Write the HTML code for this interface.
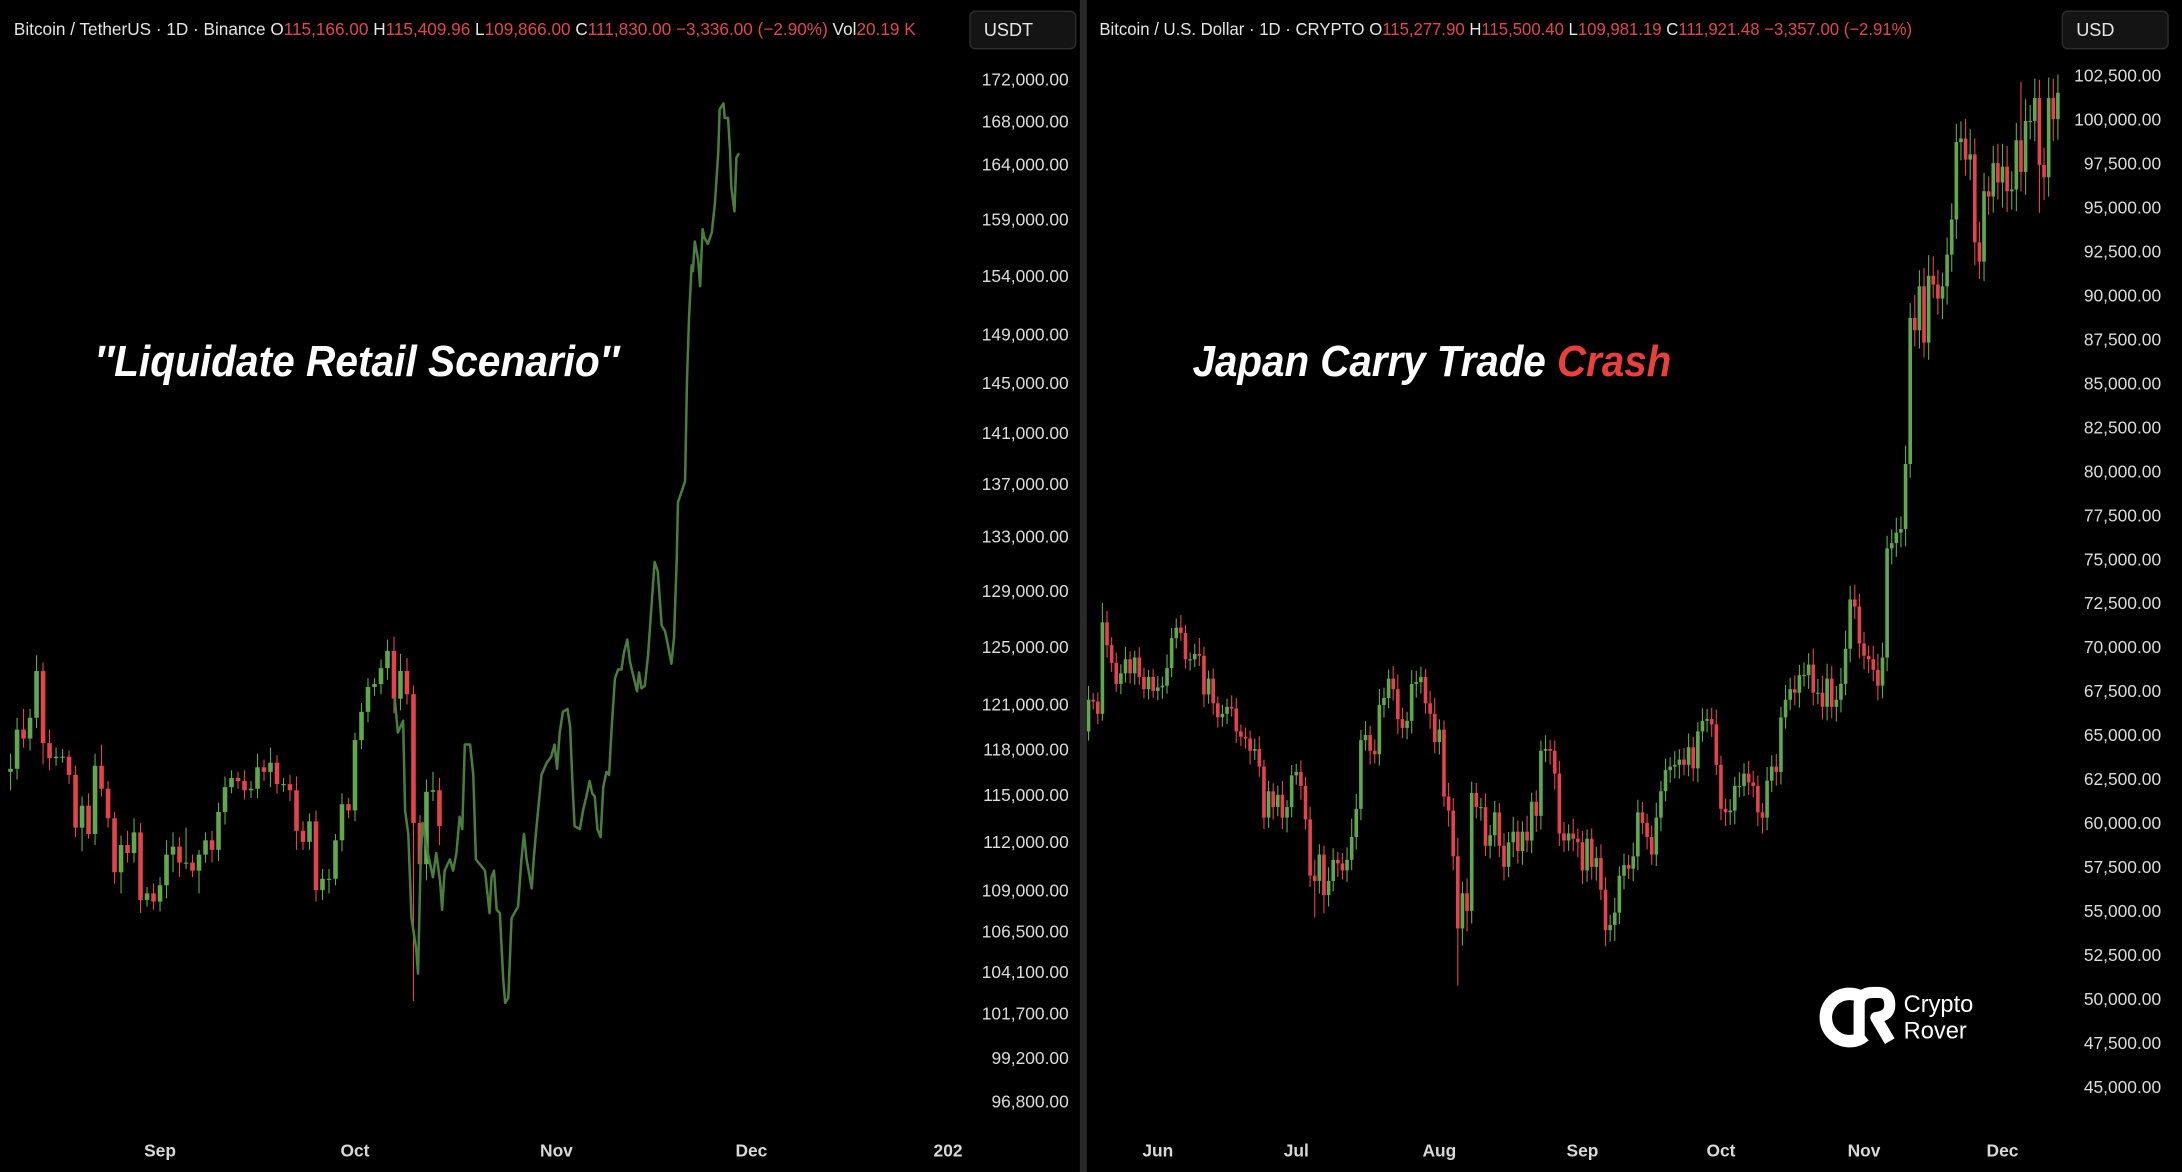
<!DOCTYPE html>
<html><head><meta charset="utf-8">
<style>
html,body{margin:0;padding:0;background:#000;}
svg{display:block;font-family:"Liberation Sans",sans-serif;}
</style></head>
<body>
<svg id="chart" width="2182" height="1172" viewBox="0 0 1568 842" preserveAspectRatio="none" xmlns="http://www.w3.org/2000/svg">
<rect x="0" y="0" width="1568" height="842" fill="#000"/>
<rect x="776" y="0" width="5" height="842" fill="#2a2a2a"/>
<defs>
<clipPath id="clipL"><rect x="0" y="0" width="692" height="842"/></clipPath>
<clipPath id="clipR"><rect x="781" y="0" width="700" height="842"/></clipPath>
</defs>
<text x="10" y="25" font-size="12.5" fill="#e6e6e6" textLength="648" lengthAdjust="spacingAndGlyphs">Bitcoin / TetherUS · 1D · Binance  O<tspan fill="#e0474f">115,166.00</tspan>  H<tspan fill="#e0474f">115,409.96</tspan>  L<tspan fill="#e0474f">109,866.00</tspan>  C<tspan fill="#e0474f">111,830.00</tspan>  <tspan fill="#e0474f">−3,336.00 (−2.90%)</tspan>  Vol<tspan fill="#e0474f">20.19 K</tspan></text>
<text x="790" y="25" font-size="12.5" fill="#e6e6e6" textLength="584" lengthAdjust="spacingAndGlyphs">Bitcoin / U.S. Dollar · 1D · CRYPTO  O<tspan fill="#e0474f">115,277.90</tspan>  H<tspan fill="#e0474f">115,500.40</tspan>  L<tspan fill="#e0474f">109,981.19</tspan>  C<tspan fill="#e0474f">111,921.48</tspan>  <tspan fill="#e0474f">−3,357.00 (−2.91%)</tspan></text>
<g><rect x="697" y="8" width="76" height="27" rx="4" fill="#141414" stroke="#2e2e2e"/><text x="707" y="26" font-size="13" fill="#e6e6e6">USDT</text></g>
<g><rect x="1482" y="8" width="76" height="27" rx="4" fill="#141414" stroke="#2e2e2e"/><text x="1492" y="26" font-size="13" fill="#e6e6e6">USD</text></g>
<g id="left" clip-path="url(#clipL)"></g>
<g id="right" clip-path="url(#clipR)"></g>
<g id="axes"></g>
<text x="68" y="270" font-size="31" font-weight="bold" font-style="italic" fill="#fff" textLength="377" lengthAdjust="spacingAndGlyphs">″Liquidate Retail Scenario″</text>
<text x="857" y="270" font-size="31" font-weight="bold" font-style="italic" fill="#fff" textLength="344" lengthAdjust="spacingAndGlyphs">Japan Carry Trade <tspan fill="#e8403a">Crash</tspan></text>
<g>
<path d="M1340 718 A17 17 0 1 0 1340 744" fill="none" stroke="#fff" stroke-width="9"/>
<path d="M1336 748 L1336 722 Q1336 713 1346 713 L1350 713 Q1358 713 1358 722 Q1358 730 1348 731 L1358 748" fill="none" stroke="#fff" stroke-width="8" stroke-linejoin="round"/>
<text x="1368" y="727" font-size="17" fill="#fff">Crypto</text>
<text x="1368" y="746" font-size="17" fill="#fff">Rover</text>
</g>
</svg>
<script>
// ---------- Left chart data (BTC/USDT 2025, thousands) ----------
const leftStartDay = -23; // Aug 9 relative to Sep 1
const leftFirstOpen = 116.5;
const leftCloses = [116.7,119.3,118.7,120.1,123.3,118.4,117.4,117.5,117.5,116.3,112.9,114.3,112.5,116.9,115.4,113.5,110.1,111.8,111.3,112.6,108.4,108.8,108.3,109.3,111.2,111.7,110.7,110.7,110.2,111.2,112.1,111.5,113.9,115.5,116.1,115.9,115.3,115.4,116.8,116.5,117.1,115.7,115.7,115.3,112.7,112.0,113.3,109.0,109.7,109.7,112.1,114.4,114.0,118.6,120.5,122.2,122.4,123.5,124.7,121.4,123.3,121.7,113.2,110.6,115.2,115.3,113.0];
const leftWickUp = [1.0,0.8,1.4,0.6,1.1,0.6,0.9,0.6,0.5,0.4,0.6,0.6,0.8,0.8,1.4,0.5,0.4,0.6,0.9,0.9,0.6,0.4,0.6,0.5,0.9,0.9,0.6,2.2,0.5,0.3,0.5,0.6,0.6,0.7,0.5,0.4,0.7,0.5,0.9,0.5,1.0,0.5,0.4,0.6,0.9,0.6,0.5,0.7,0.6,0.6,0.4,0.7,0.4,0.5,0.6,0.6,0.4,0.6,0.8,1.0,1.2,0.9,0.6,0.5,0.8,1.2,0.8];
const leftWickDn = [1.2,0.7,0.6,0.8,0.7,1.4,0.8,0.5,0.4,0.6,0.6,1.5,0.3,0.7,0.5,0.6,0.7,1.3,0.6,0.6,0.8,0.4,0.5,0.6,0.8,1.1,0.9,0.4,0.4,1.4,0.5,0.8,0.7,0.8,0.4,0.5,0.6,0.5,0.6,0.6,1.0,0.6,0.5,0.7,1.2,0.5,0.5,0.7,0.6,0.9,0.4,0.7,0.5,0.7,0.6,0.7,0.6,0.7,0.8,1.0,0.8,0.7,10.8,0.8,1.0,0.6,1.2];
// projection line: day (from Sep 1) and price (thousands)
const projDays = [36.1,36.6,37.4,37.7,38.2,38.7,39.4,39.7,40.1,40.4,41.0,42.0,42.5,43.1,43.4,43.8,44.6,45.1,45.6,46.1,46.5,46.9,47.7,48.2,48.6,49.2,50.0,50.7,51.0,51.4,51.8,52.3,52.8,53.1,53.6,54.1,55.1,55.6,56.0,56.4,57.2,57.5,57.9,58.7,59.5,60.2,60.7,61.1,61.5,62.0,62.7,63.1,63.5,63.8,64.6,65.1,65.6,66.1,66.5,66.9,67.3,67.8,68.2,68.7,69.1,69.5,70.0,70.5,71.0,71.4,71.9,72.3,72.7,73.4,73.7,74.1,74.6,75.1,75.6,76.1,76.6,77.2,77.7,78.2,78.7,79.1,79.5,79.7,80.2,80.8,81.1,81.4,81.8,82.0,82.3,82.8,83.1,83.5,83.8,84.3,84.9,85.4,85.9,86.1,86.7,86.9,87.4,87.7,87.9,88.4,88.7,89.1];
const projPrices = [121.5,119.1,119.9,114.0,112.5,107.3,105.5,104.0,110.9,113.2,111.7,109.8,111.3,109.5,107.8,110.2,110.9,110.2,111.3,113.6,112.8,118.3,118.3,116.3,110.9,110.6,110.2,107.6,109.8,110.2,107.8,107.6,103.7,102.3,102.6,107.3,108.0,110.9,112.5,110.9,109.1,110.9,112.8,116.3,117.1,117.5,118.3,116.7,119.1,120.5,120.7,119.5,115.5,113.0,112.8,114.0,114.9,115.9,115.1,114.9,112.8,112.3,115.5,116.5,116.3,119.5,122.8,123.4,123.4,124.6,125.5,124.0,123.2,121.9,123.2,122.1,122.3,124.4,127.8,131.1,130.4,126.5,126.1,125.0,123.8,125.7,131.3,135.6,136.3,137.2,145.3,150.3,154.9,154.4,157.0,155.4,153.1,158.1,157.3,156.8,157.8,160.5,165.2,169.1,169.7,168.3,168.3,165.2,161.9,159.7,164.6,165.0];
const leftTicks = [172000,168000,164000,159000,154000,149000,145000,141000,137000,133000,129000,125000,121000,118000,115000,112000,109000,106500,104100,101700,99200,96800];
const leftMonths = ["Sep","Oct","Nov","Dec","2026"];
const leftMonthDays = [0,30,61,91,122];

// ---------- Right chart data (BTC/USD 2024, thousands) ----------
const rightStartDay = -16; // May 16 relative to Jun 1
const rightFirstOpen = 66.2;
const rightCloses = [65.2,67.0,66.9,66.2,71.4,70.1,69.1,67.9,68.5,69.3,68.5,69.4,68.3,67.6,68.3,67.5,
67.7,67.8,68.8,70.5,71.1,70.8,69.3,69.3,69.6,69.5,67.3,68.2,66.8,66.0,66.2,66.6,66.5,65.2,64.9,64.8,64.1,64.2,63.2,60.3,61.8,60.9,61.6,60.3,60.9,62.7,
62.9,62.1,60.2,57.0,56.7,58.2,55.9,56.7,57.9,57.7,57.3,57.9,59.2,60.8,64.7,65.0,64.1,63.9,66.7,67.1,68.2,67.6,65.9,65.4,65.8,67.9,68.0,68.3,66.8,66.2,64.6,
65.3,61.5,60.7,58.1,54.0,56.0,55.0,61.7,60.9,60.9,58.7,59.3,60.6,58.7,57.5,58.9,59.5,58.4,59.5,59.0,61.2,60.4,64.1,64.2,64.1,62.8,59.4,59.0,59.4,59.1,58.9,
57.3,59.1,57.5,58.0,56.2,53.9,54.2,54.9,57.0,57.6,57.4,58.1,60.6,60.0,59.2,58.2,60.3,61.8,63.0,63.2,63.3,63.6,63.3,64.3,63.1,65.2,65.8,65.9,65.6,63.3,
60.8,60.6,60.7,62.1,62.1,62.8,62.3,62.1,60.6,60.3,62.4,63.2,62.9,66.0,67.0,67.6,67.4,68.4,68.4,69.0,67.4,67.4,66.6,68.2,66.6,67.0,67.9,69.9,72.7,72.3,70.2,
69.5,69.3,68.7,67.8,69.4,75.6,75.9,76.5,76.7,80.4,88.7,88.0,90.5,87.3,91.1,90.6,89.8,90.5,92.3,94.3,98.7,98.9,97.7,98.0,93.0,91.9,95.9,95.6,97.5,96.4,
97.3,95.9,96.0,98.8,97.0,99.9,99.9,101.2,97.4,96.7,101.2,100.0,101.5];
// wick extents in $100 units
const rightWickUp = [9,12,6,8,17,10,7,9,8,11,7,6,9,8,6,7,10,8,12,9,8,11,7,6,9,14,8,7,9,6,8,7,10,9,6,8,7,9,11,6,9,7,8,12,6,9,7,10,8,11,14,9,8,12,10,7,9,11,16,13,9,12,8,10,14,9,8,11,13,10,8,12,10,9,7,11,14,9,8,12,11,16,10,13,10,9,8,12,9,10,8,11,9,13,10,9,14,8,10,9,12,8,9,11,10,8,13,9,10,8,9,10,12,11,9,13,8,10,9,12,11,9,8,10,13,9,10,8,12,9,10,12,9,8,11,9,10,13,8,9,10,8,12,9,11,10,9,8,12,10,11,9,13,10,12,9,11,10,14,12,15,13,11,12,14,16,12,13,11,10,9,12,14,13,11,12,13,11,16,13,20,14,16,18,17,13,12,15,14,16,15,17,22,14,18,16,13,15,17,20,18,16,15,51,19,14,17,16,15,18,17,16];
const rightWickDn = [10,8,7,9,6,11,8,7,9,8,9,10,7,8,9,6,8,10,7,8,9,7,8,10,7,9,11,8,10,9,8,9,7,10,8,9,12,8,9,10,9,11,8,10,13,9,8,12,9,10,32,11,16,10,9,12,8,10,9,11,10,9,12,8,10,11,9,10,13,9,10,11,12,10,9,13,10,11,9,14,12,50,15,18,11,10,12,9,11,10,10,12,9,13,11,12,10,11,14,12,10,12,14,11,10,9,11,13,12,10,11,12,9,14,10,14,10,12,9,11,12,10,11,9,10,12,9,11,10,12,9,10,11,12,9,10,11,9,10,12,11,12,10,9,11,10,12,14,11,10,12,11,10,9,11,13,10,12,11,10,11,12,10,13,11,10,12,11,13,12,12,10,13,11,12,14,12,13,15,12,14,16,13,15,12,14,18,16,15,17,16,14,18,20,15,17,16,14,15,22,18,16,19,17,20,16,18,42,20,17,19,18];
const rightTicks = [102500,100000,97500,95000,92500,90000,87500,85000,82500,80000,77500,75000,72500,70000,67500,65000,62500,60000,57500,55000,52500,50000,47500,45000];
const rightMonths = ["Jun","Jul","Aug","Sep","Oct","Nov","Dec"];
const rightMonthDays = [0,30,61,92,122,153,183];

// ---------- axis functions ----------
const xL = d => 115 + d * 4.67;
const yL = p => 57 + (Math.log(172) - Math.log(p)) * 1277;
const xR = d => 832 + d * 3.317;
const yR = p => 54 + (102.5 - p) / 2.5 * 31.6;

const NS = "http://www.w3.org/2000/svg";
function mk(tag, parent, attrs) {
  const e = document.createElementNS(NS, tag);
  for (const k in attrs) e.setAttribute(k, attrs[k]);
  parent.appendChild(e);
  return e;
}
const GREEN = "#5fa84e", RED = "#e2434c";

function drawCandles(g, closes, firstOpen, up, dn, scaleUp, startDay, xf, yf, w, name) {
  let open = firstOpen;
  closes.forEach((c, i) => {
    const hi = Math.max(open, c) + up[i] * scaleUp;
    const lo = Math.min(open, c) - dn[i] * scaleUp;
    const col = c >= open ? GREEN : RED;
    const x = xf(startDay + i);
    const cg = mk("g", g, {});
    
    
    mk("line", cg, {x1: x, x2: x, y1: yf(hi), y2: yf(lo), stroke: col, "stroke-width": 0.8});
    const yt = yf(Math.max(open, c)), yb = yf(Math.min(open, c));
    mk("rect", cg, {x: x - w / 2, y: yt, width: w, height: Math.max(0.8, yb - yt), fill: col});
    open = c;
  });
}

const gL = document.getElementById("left");
const gR = document.getElementById("right");
const gA = document.getElementById("axes");

drawCandles(gL, leftCloses, leftFirstOpen, leftWickUp, leftWickDn, 1, leftStartDay, xL, yL, 3.3, 'left-candle');
drawCandles(gR, rightCloses, rightFirstOpen, rightWickUp, rightWickDn, 0.065, rightStartDay, xR, yR, 2.6, 'right-candle');

const pts = projDays.map((d, i) => xL(d).toFixed(1) + "," + yL(projPrices[i]).toFixed(1)).join(" ");
const proj = mk("polyline", gL, {points: pts, fill: "none", stroke: "#4a7e3c", "stroke-width": 1.8, "stroke-linejoin": "round"});



leftTicks.forEach(v => {
  const t = mk("text", gA, {x: 768, y: yL(v / 1000) + 4.5, "font-size": 12.5, fill: "#dcdcdc", "text-anchor": "end"});
  
  
  t.textContent = v.toLocaleString("en-US") + ".00";
});
rightTicks.forEach(v => {
  const t = mk("text", gA, {x: 1553, y: yR(v / 1000) + 4.5, "font-size": 12.5, fill: "#dcdcdc", "text-anchor": "end"});
  
  
  t.textContent = v.toLocaleString("en-US") + ".00";
});
const gLm = mk("g", gA, {"clip-path": "url(#clipL)"});
leftMonths.forEach((m, i) => {
  const t = mk("text", gLm, {x: xL(leftMonthDays[i]), y: 831, "font-size": 12.5, "font-weight": "bold", fill: "#d8d8d8", "text-anchor": "middle"});
  
  
  t.textContent = m;
});
rightMonths.forEach((m, i) => {
  const t = mk("text", gA, {x: xR(rightMonthDays[i]), y: 831, "font-size": 12.5, "font-weight": "bold", fill: "#d8d8d8", "text-anchor": "middle"});
  
  
  t.textContent = m;
});
</script>
</body></html>
